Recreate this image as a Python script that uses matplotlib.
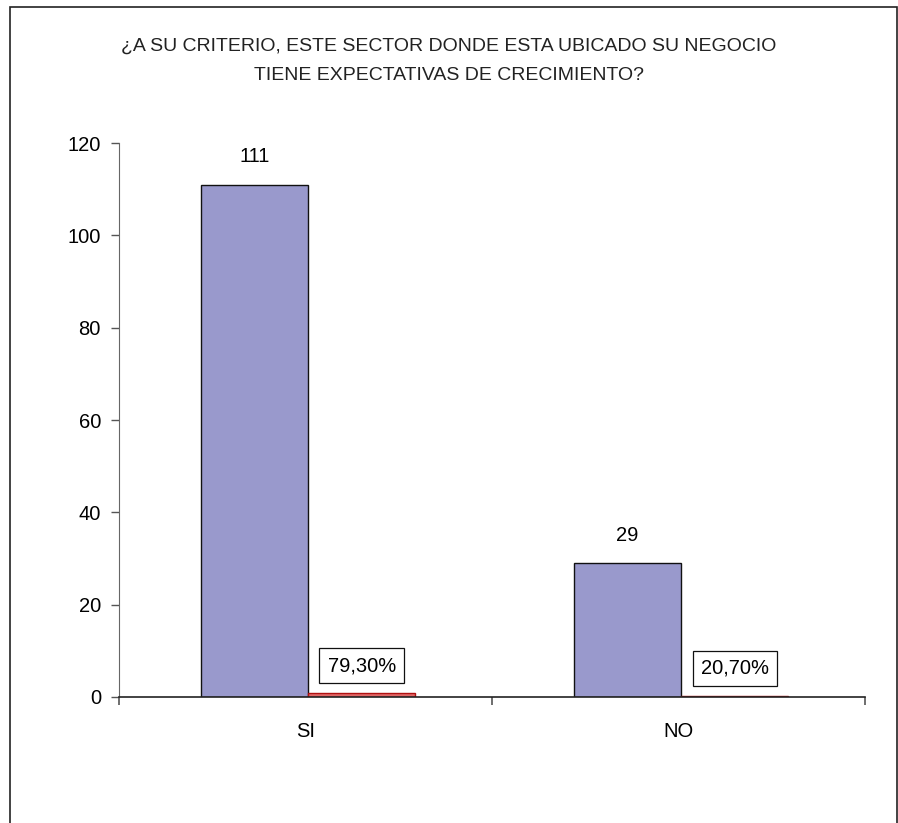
import matplotlib.pyplot as plt
from matplotlib.patches import Rectangle

categories = ["SI", "NO"]
counts = [111, 29]
percents = [0.793, 0.207]
count_labels = ["111", "29"]
percent_labels = ["79,30%", "20,70%"]
title = "¿A SU CRITERIO, ESTE SECTOR DONDE ESTA UBICADO SU NEGOCIO\nTIENE EXPECTATIVAS DE CRECIMIENTO?"

plt.rcParams['font.family'] = ['Liberation Sans', 'DejaVu Sans']

fig = plt.figure(figsize=(8.98, 8.23), dpi=100)
ax = fig.add_axes([0.1325, 0.1531, 0.9633 - 0.1325, 0.8262 - 0.1531])

# frame around the chart area
fig.patches.append(Rectangle((10 / 898, -0.05), 887 / 898, 1.05 - 7 / 823,
                             transform=fig.transFigure, fill=False,
                             edgecolor='#222222', linewidth=1.2, clip_on=False))

w = 0.287
x = list(range(len(categories)))
bars1 = ax.bar([i - w / 2 + 0.007 for i in x], counts, width=w, color='#9999CC',
               edgecolor='#111111', linewidth=1.0)
bars2 = ax.bar([i + w / 2 + 0.007 for i in x], percents, width=w, color='#E06666',
               edgecolor='#B01010', linewidth=1.0)

for b, lab in zip(bars1, count_labels):
    ax.annotate(lab, (b.get_x() + b.get_width() / 2, b.get_height()),
                xytext=(0, 20), textcoords='offset points',
                ha='center', va='center', fontsize=14.5)

for b, lab in zip(bars2, percent_labels):
    ax.annotate(lab, (b.get_x() + b.get_width() / 2, b.get_height()),
                xytext=(0, 20), textcoords='offset points',
                ha='center', va='center', fontsize=14.5,
                bbox=dict(boxstyle='square,pad=0.4', facecolor='white',
                          edgecolor='#111111', linewidth=0.9))

ax.set_xlim(-0.5, 1.5)
ax.set_ylim(0, 120)
ax.set_yticks([0, 20, 40, 60, 80, 100, 120])
ax.set_xticks(x)
ax.set_xticklabels(categories)
ax.set_xticks([-0.5, 0.5, 1.5], minor=True)
ax.tick_params(axis='x', which='major', length=0, pad=18, labelsize=14.5)
ax.tick_params(axis='x', which='minor', length=6, width=1.2, color='#555555')
ax.tick_params(axis='y', length=6, width=1.0, color='#555555', pad=7, labelsize=14.5)

ax.spines['top'].set_visible(False)
ax.spines['right'].set_visible(False)
ax.spines['left'].set_color('#666666')
ax.spines['bottom'].set_color('#222222')
ax.spines['bottom'].set_linewidth(1.2)

fig.text(0.5, 1 - 61 / 823, title, ha='center', va='center', fontsize=14,
         linespacing=2.0, color='#222222')

fig.savefig('out.png', dpi=100)
